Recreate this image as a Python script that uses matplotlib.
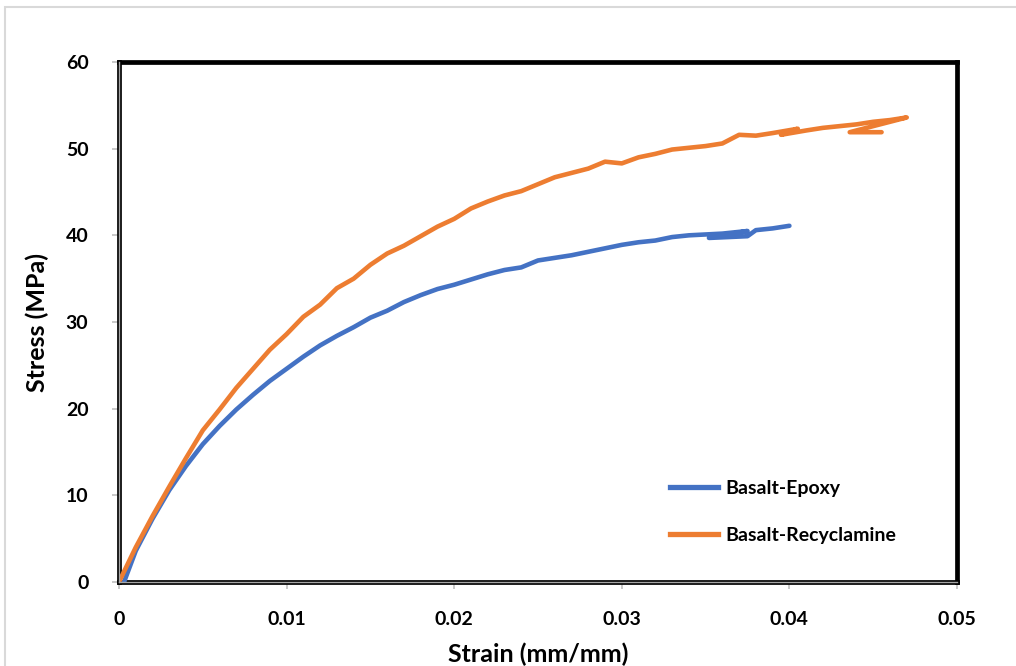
import matplotlib
matplotlib.use("Agg")
import matplotlib.pyplot as plt
from matplotlib.patches import Rectangle
from matplotlib.lines import Line2D

plt.rcParams['font.family'] = ['Lato', 'DejaVu Sans']

# ---- data ----
epoxy_strain = [0.0003, 0.001, 0.002, 0.003, 0.004, 0.005, 0.006, 0.007, 0.008, 0.009,
                0.010, 0.011, 0.012, 0.013, 0.014, 0.015, 0.016, 0.017, 0.018, 0.019,
                0.020, 0.021, 0.022, 0.023, 0.024, 0.025, 0.026, 0.027, 0.028, 0.029,
                0.030, 0.031, 0.032, 0.033, 0.034, 0.035, 0.036, 0.0375, 0.0352, 0.0375,
                0.038, 0.039, 0.040]
epoxy_stress = [0.0, 3.6, 7.3, 10.6, 13.4, 15.9, 18.0, 19.9, 21.6, 23.2,
                24.6, 26.0, 27.3, 28.4, 29.4, 30.5, 31.3, 32.3, 33.1, 33.8,
                34.3, 34.9, 35.5, 36.0, 36.3, 37.1, 37.4, 37.7, 38.1, 38.5,
                38.9, 39.2, 39.4, 39.8, 40.0, 40.1, 40.2, 40.5, 39.7, 39.9,
                40.6, 40.8, 41.1]

recy_strain = [0.000, 0.001, 0.002, 0.003, 0.004, 0.005, 0.006, 0.007, 0.008, 0.009,
               0.010, 0.011, 0.012, 0.013, 0.014, 0.015, 0.016, 0.017, 0.018, 0.019,
               0.020, 0.021, 0.022, 0.023, 0.024, 0.025, 0.026, 0.027, 0.028, 0.029,
               0.030, 0.031, 0.032, 0.033, 0.034, 0.035, 0.036, 0.037, 0.038, 0.039,
               0.0405, 0.0395, 0.041, 0.042, 0.043, 0.044, 0.045, 0.046, 0.047,
               0.0436, 0.0455]
recy_stress = [0.0, 4.0, 7.6, 11.0, 14.3, 17.5, 19.9, 22.4, 24.6, 26.8,
               28.6, 30.6, 32.0, 33.9, 35.0, 36.6, 37.9, 38.8, 39.9, 41.0,
               41.9, 43.1, 43.9, 44.6, 45.1, 45.9, 46.7, 47.2, 47.7, 48.5,
               48.3, 49.0, 49.4, 49.9, 50.1, 50.3, 50.6, 51.6, 51.5, 51.8,
               52.3, 51.6, 52.1, 52.4, 52.6, 52.8, 53.1, 53.3, 53.6,
               51.9, 51.9]

series_labels = ["Basalt-Epoxy", "Basalt-Recyclamine"]
series_colors = ["#4472C4", "#ED7D31"]
x_ticks = [0, 0.01, 0.02, 0.03, 0.04, 0.05]
x_ticklabels = ["0", "0.01", "0.02", "0.03", "0.04", "0.05"]
y_ticks = [0, 10, 20, 30, 40, 50, 60]

fig = plt.figure(figsize=(10.16, 6.66), dpi=100)
fig.patches.append(Rectangle((5/1016, -0.1), 1.2, (666-7)/666 + 0.1, transform=fig.transFigure,
                             fill=False, edgecolor="#D9D9D9", linewidth=1.5))
ax = fig.add_axes([119/1016, 1-582/666, (957-119)/1016, (582-62)/666])

ax.plot(epoxy_strain, epoxy_stress, color=series_colors[0], lw=3.3,
        solid_joinstyle='round', solid_capstyle='round', zorder=3)
ax.plot(recy_strain, recy_stress, color=series_colors[1], lw=3.3,
        solid_joinstyle='round', solid_capstyle='round', zorder=4)

ax.set_xlim(0, 0.05)
ax.set_ylim(0, 60)
ax.set_xticks(x_ticks)
ax.set_xticklabels(x_ticklabels)
ax.set_yticks(y_ticks)

for s in ax.spines.values():
    s.set_linewidth(3.4)
    s.set_color("black")
ax.axvline(0, color="#A6A6A6", lw=1.0, zorder=5, clip_on=False)
ax.axhline(0, color="#A6A6A6", lw=1.0, zorder=5, clip_on=False)

ax.tick_params(axis='both', direction='out', length=5, width=1.2, color="#BFBFBF",
               labelsize=14)
ax.tick_params(axis='x', pad=16)
ax.tick_params(axis='y', pad=17)
for lab in ax.get_xticklabels() + ax.get_yticklabels():
    lab.set_fontweight('bold')

ax.set_xlabel("Strain (mm/mm)", fontsize=18, fontweight='bold', labelpad=10)
ax.set_ylabel("Stress (MPa)", fontsize=18, fontweight='bold', labelpad=12)

handles = [Line2D([], [], color=c, lw=3.8) for c in series_colors]
ax.legend(handles, series_labels, loc='center left', bbox_to_anchor=(652/1016, 1-512/666),
          bbox_transform=fig.transFigure, frameon=False, handlelength=2.5,
          handletextpad=0.35, labelspacing=1.55, prop={'weight': 'bold', 'size': 14})

fig.savefig("out.png", dpi=100)
